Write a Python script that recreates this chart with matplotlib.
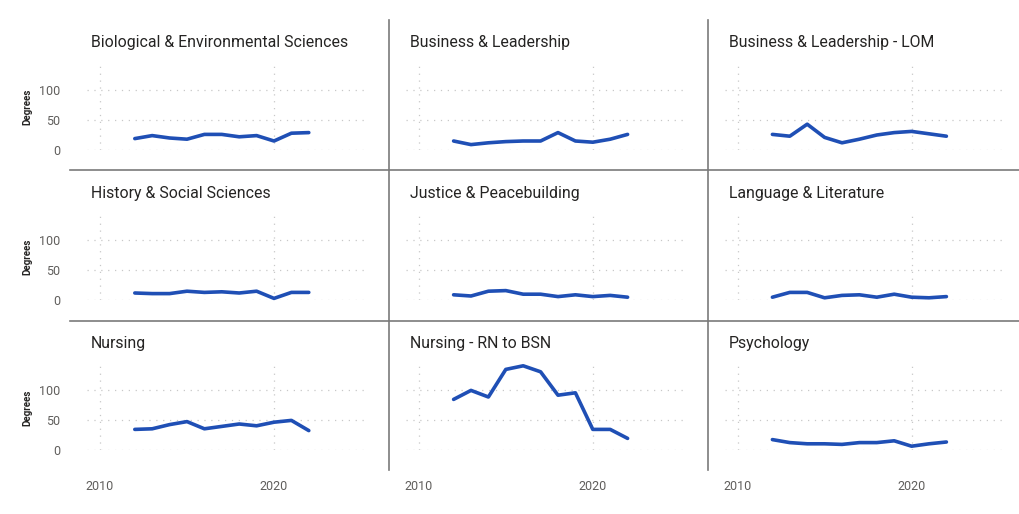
import matplotlib
matplotlib.use("Agg")
import matplotlib.pyplot as plt
from matplotlib.lines import Line2D

plt.rcParams['font.family'] = ['Roboto', 'DejaVu Sans']

years = list(range(2012, 2023))

programs = [
    "Biological & Environmental Sciences",
    "Business & Leadership",
    "Business & Leadership - LOM",
    "History & Social Sciences",
    "Justice & Peacebuilding",
    "Language & Literature",
    "Nursing",
    "Nursing - RN to BSN",
    "Psychology",
]

bio_env = [19, 24, 20, 18, 26, 26, 22, 24, 15, 28, 29]
business = [15, 9, 12, 14, 15, 15, 29, 15, 13, 18, 26]
business_lom = [26, 23, 43, 21, 12, 18, 25, 29, 31, 27, 23]
history = [12, 11, 11, 15, 13, 14, 12, 15, 3, 13, 13]
justice = [9, 7, 15, 16, 10, 10, 6, 9, 6, 8, 5]
language = [5, 13, 13, 4, 8, 9, 5, 10, 5, 4, 6]
nursing = [35, 36, 43, 48, 36, 40, 44, 41, 47, 50, 33]
rn_bsn = [85, 100, 89, 135, 141, 131, 92, 96, 35, 35, 20]
psychology = [18, 13, 11, 11, 10, 13, 13, 16, 7, 11, 14]

series = [bio_env, business, business_lom, history, justice, language,
          nursing, rn_bsn, psychology]

W, H = 1019, 514
fig = plt.figure(figsize=(W / 100, H / 100), dpi=100)

line_color = "#1F4FB5"
grid_color = "#C8C8C8"
text_color = "#252423"
tick_color = "#605E5C"

px_per_year = 17.4
xmin = 2010 - 13 / px_per_year
xmax = xmin + 280 / px_per_year

for i, (name, vals) in enumerate(zip(programs, series)):
    r, c = divmod(i, 3)
    left = 87 + 318.8 * c
    top = 63 + 150.2 * r
    ax = fig.add_axes([left / W, 1 - (top + 87) / H, 280 / W, 87 / H])
    ax.plot(years, vals, color=line_color, lw=2.6, solid_capstyle='round',
            solid_joinstyle='round', clip_on=False, zorder=3)
    ax.set_xlim(xmin, xmax)
    ax.set_ylim(0, 145)
    ax.set_yticks([0, 50, 100])
    ax.set_xticks([2010, 2020])
    ax.grid(True, color=grid_color, linestyle=(0, (1, 4.5)), lw=0.9)
    for s in ax.spines.values():
        s.set_visible(False)
    ax.tick_params(length=0, labelsize=9, colors=tick_color)
    ax.tick_params(axis='y', pad=19)
    ax.tick_params(axis='x', pad=21)
    if c != 0:
        ax.set_yticklabels([])
    if r != 2:
        ax.set_xticklabels([])
    fig.text((left + 4) / W, 1 - (top - 20) / H, name, fontsize=11.4,
             color=text_color, va='center', ha='left')
    if c == 0:
        fig.text(27 / W, 1 - (top + 44) / H, "Degrees", rotation=90,
                 fontsize=7, fontweight='bold', color=text_color,
                 va='center', ha='center')

# panel separators
sep = "#7A7A7A"
for x in (389, 708):
    fig.add_artist(Line2D([x / W, x / W], [1 - 20 / H, 1 - 470 / H],
                          color=sep, lw=1.2))
for y in (170, 321):
    fig.add_artist(Line2D([70 / W, 1], [1 - y / H, 1 - y / H],
                          color=sep, lw=1.2))

fig.savefig("out.png", dpi=100)
